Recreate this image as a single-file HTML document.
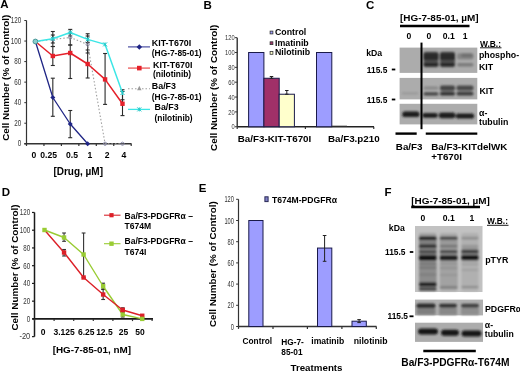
<!DOCTYPE html>
<html><head><meta charset="utf-8"><style>
html,body{margin:0;padding:0;background:#fff;overflow:hidden}
svg{display:block;font-family:"Liberation Sans", sans-serif;filter:blur(0.5px)}
</style></head><body>
<svg width="520" height="371" viewBox="0 0 520 371">
<defs>
<filter id="bl1" x="-5%" y="-5%" width="110%" height="110%"><feGaussianBlur stdDeviation="0.4"/></filter>
<filter id="bl2" x="-20%" y="-50%" width="140%" height="200%"><feGaussianBlur stdDeviation="1.1 0.8"/></filter>
</defs>
<rect width="520" height="371" fill="#fff"/>
<text x="0.20" y="8.40" font-size="11.5" font-weight="bold" text-anchor="start" fill="#000">A</text>
<line x1="26.50" y1="20.51" x2="26.50" y2="144.25" stroke="#333" stroke-width="1.2" />
<line x1="24.30" y1="143.75" x2="131.50" y2="143.75" stroke="#333" stroke-width="1.5" />
<line x1="24.30" y1="143.75" x2="26.50" y2="143.75" stroke="#333" stroke-width="1" />
<text x="21.20" y="146.47" font-size="8.4" font-weight="normal" text-anchor="end" fill="#333" textLength="3.5" lengthAdjust="spacingAndGlyphs" >0</text>
<line x1="24.30" y1="123.21" x2="26.50" y2="123.21" stroke="#333" stroke-width="1" />
<text x="21.20" y="125.93" font-size="8.4" font-weight="normal" text-anchor="end" fill="#333" textLength="7.0" lengthAdjust="spacingAndGlyphs" >20</text>
<line x1="24.30" y1="102.67" x2="26.50" y2="102.67" stroke="#333" stroke-width="1" />
<text x="21.20" y="105.39" font-size="8.4" font-weight="normal" text-anchor="end" fill="#333" textLength="7.0" lengthAdjust="spacingAndGlyphs" >40</text>
<line x1="24.30" y1="82.13" x2="26.50" y2="82.13" stroke="#333" stroke-width="1" />
<text x="21.20" y="84.85" font-size="8.4" font-weight="normal" text-anchor="end" fill="#333" textLength="7.0" lengthAdjust="spacingAndGlyphs" >60</text>
<line x1="24.30" y1="61.59" x2="26.50" y2="61.59" stroke="#333" stroke-width="1" />
<text x="21.20" y="64.31" font-size="8.4" font-weight="normal" text-anchor="end" fill="#333" textLength="7.0" lengthAdjust="spacingAndGlyphs" >80</text>
<line x1="24.30" y1="41.05" x2="26.50" y2="41.05" stroke="#333" stroke-width="1" />
<text x="21.20" y="43.77" font-size="8.4" font-weight="normal" text-anchor="end" fill="#333" textLength="10.5" lengthAdjust="spacingAndGlyphs" >100</text>
<line x1="24.30" y1="20.51" x2="26.50" y2="20.51" stroke="#333" stroke-width="1" />
<text x="21.20" y="23.23" font-size="8.4" font-weight="normal" text-anchor="end" fill="#333" textLength="10.5" lengthAdjust="spacingAndGlyphs" >120</text>
<line x1="26.50" y1="143.75" x2="26.50" y2="145.95" stroke="#333" stroke-width="1.2" />
<line x1="43.95" y1="143.75" x2="43.95" y2="145.95" stroke="#333" stroke-width="1.2" />
<line x1="61.40" y1="143.75" x2="61.40" y2="145.95" stroke="#333" stroke-width="1.2" />
<line x1="78.85" y1="143.75" x2="78.85" y2="145.95" stroke="#333" stroke-width="1.2" />
<line x1="96.30" y1="143.75" x2="96.30" y2="145.95" stroke="#333" stroke-width="1.2" />
<line x1="113.75" y1="143.75" x2="113.75" y2="145.95" stroke="#333" stroke-width="1.2" />
<line x1="131.20" y1="143.75" x2="131.20" y2="145.95" stroke="#333" stroke-width="1.2" />
<text x="34.00" y="157.90" font-size="8.6" font-weight="bold" text-anchor="middle" fill="#000" >0</text>
<text x="48.70" y="157.90" font-size="8.6" font-weight="bold" text-anchor="middle" fill="#000" >0.25</text>
<text x="72.00" y="157.90" font-size="8.6" font-weight="bold" text-anchor="middle" fill="#000" >0.5</text>
<text x="90.00" y="157.90" font-size="8.6" font-weight="bold" text-anchor="middle" fill="#000" >1</text>
<text x="107.10" y="157.90" font-size="8.6" font-weight="bold" text-anchor="middle" fill="#000" >2</text>
<text x="123.80" y="157.90" font-size="8.6" font-weight="bold" text-anchor="middle" fill="#000" >4</text>
<text x="78.20" y="174.50" font-size="10" font-weight="bold" text-anchor="middle" fill="#000" >[Drug, µM]</text>
<text x="0" y="0" transform="translate(8.90,77.70) rotate(-90)" font-size="9.9" font-weight="bold" text-anchor="middle">Cell Number (% of Control)</text>
<line x1="52.82" y1="78.20" x2="52.82" y2="116.30" stroke="#2a2a2a" stroke-width="1.1" />
<line x1="50.82" y1="78.20" x2="54.82" y2="78.20" stroke="#2a2a2a" stroke-width="1.1" />
<line x1="50.82" y1="116.30" x2="54.82" y2="116.30" stroke="#2a2a2a" stroke-width="1.1" />
<line x1="70.24" y1="110.50" x2="70.24" y2="137.70" stroke="#2a2a2a" stroke-width="1.1" />
<line x1="68.24" y1="110.50" x2="72.24" y2="110.50" stroke="#2a2a2a" stroke-width="1.1" />
<line x1="68.24" y1="137.70" x2="72.24" y2="137.70" stroke="#2a2a2a" stroke-width="1.1" />
<line x1="52.82" y1="46.50" x2="52.82" y2="65.50" stroke="#2a2a2a" stroke-width="1.1" />
<line x1="50.82" y1="46.50" x2="54.82" y2="46.50" stroke="#2a2a2a" stroke-width="1.1" />
<line x1="50.82" y1="65.50" x2="54.82" y2="65.50" stroke="#2a2a2a" stroke-width="1.1" />
<line x1="70.24" y1="45.00" x2="70.24" y2="78.50" stroke="#2a2a2a" stroke-width="1.1" />
<line x1="68.24" y1="45.00" x2="72.24" y2="45.00" stroke="#2a2a2a" stroke-width="1.1" />
<line x1="68.24" y1="78.50" x2="72.24" y2="78.50" stroke="#2a2a2a" stroke-width="1.1" />
<line x1="87.66" y1="50.00" x2="87.66" y2="78.00" stroke="#2a2a2a" stroke-width="1.1" />
<line x1="85.66" y1="50.00" x2="89.66" y2="50.00" stroke="#2a2a2a" stroke-width="1.1" />
<line x1="85.66" y1="78.00" x2="89.66" y2="78.00" stroke="#2a2a2a" stroke-width="1.1" />
<line x1="105.08" y1="53.50" x2="105.08" y2="104.40" stroke="#2a2a2a" stroke-width="1.1" />
<line x1="103.08" y1="53.50" x2="107.08" y2="53.50" stroke="#2a2a2a" stroke-width="1.1" />
<line x1="103.08" y1="104.40" x2="107.08" y2="104.40" stroke="#2a2a2a" stroke-width="1.1" />
<line x1="122.50" y1="91.50" x2="122.50" y2="115.60" stroke="#2a2a2a" stroke-width="1.1" />
<line x1="120.50" y1="91.50" x2="124.50" y2="91.50" stroke="#2a2a2a" stroke-width="1.1" />
<line x1="120.50" y1="115.60" x2="124.50" y2="115.60" stroke="#2a2a2a" stroke-width="1.1" />
<line x1="52.82" y1="31.50" x2="52.82" y2="46.50" stroke="#2a2a2a" stroke-width="1.1" />
<line x1="50.82" y1="31.50" x2="54.82" y2="31.50" stroke="#2a2a2a" stroke-width="1.1" />
<line x1="50.82" y1="46.50" x2="54.82" y2="46.50" stroke="#2a2a2a" stroke-width="1.1" />
<line x1="70.24" y1="29.40" x2="70.24" y2="36.00" stroke="#2a2a2a" stroke-width="1.1" />
<line x1="68.24" y1="29.40" x2="72.24" y2="29.40" stroke="#2a2a2a" stroke-width="1.1" />
<line x1="68.24" y1="36.00" x2="72.24" y2="36.00" stroke="#2a2a2a" stroke-width="1.1" />
<line x1="87.66" y1="33.75" x2="87.66" y2="42.50" stroke="#2a2a2a" stroke-width="1.1" />
<line x1="85.66" y1="33.75" x2="89.66" y2="33.75" stroke="#2a2a2a" stroke-width="1.1" />
<line x1="85.66" y1="42.50" x2="89.66" y2="42.50" stroke="#2a2a2a" stroke-width="1.1" />
<line x1="122.50" y1="89.75" x2="122.50" y2="99.75" stroke="#2a2a2a" stroke-width="1.1" />
<line x1="120.50" y1="89.75" x2="124.50" y2="89.75" stroke="#2a2a2a" stroke-width="1.1" />
<line x1="120.50" y1="99.75" x2="124.50" y2="99.75" stroke="#2a2a2a" stroke-width="1.1" />
<line x1="52.82" y1="35.00" x2="52.82" y2="43.00" stroke="#2a2a2a" stroke-width="1.1" />
<line x1="50.82" y1="35.00" x2="54.82" y2="35.00" stroke="#2a2a2a" stroke-width="1.1" />
<line x1="50.82" y1="43.00" x2="54.82" y2="43.00" stroke="#2a2a2a" stroke-width="1.1" />
<line x1="70.24" y1="33.00" x2="70.24" y2="45.00" stroke="#2a2a2a" stroke-width="1.1" />
<line x1="68.24" y1="33.00" x2="72.24" y2="33.00" stroke="#2a2a2a" stroke-width="1.1" />
<line x1="68.24" y1="45.00" x2="72.24" y2="45.00" stroke="#2a2a2a" stroke-width="1.1" />
<line x1="87.66" y1="36.00" x2="87.66" y2="53.00" stroke="#2a2a2a" stroke-width="1.1" />
<line x1="85.66" y1="36.00" x2="89.66" y2="36.00" stroke="#2a2a2a" stroke-width="1.1" />
<line x1="85.66" y1="53.00" x2="89.66" y2="53.00" stroke="#2a2a2a" stroke-width="1.1" />
<polyline points="35.40,41.50 52.82,39.40 70.24,37.50 87.66,44.40 105.08,143.75 122.50,143.75" fill="none" stroke="#a0a0a0" stroke-width="1.1" stroke-linejoin="round" stroke-dasharray="1.5,2"/>
<circle cx="35.40" cy="41.50" r="1.6" fill="none" stroke="#8a8aa8" stroke-width="1"/>
<circle cx="52.82" cy="39.40" r="1.6" fill="none" stroke="#8a8aa8" stroke-width="1"/>
<circle cx="70.24" cy="37.50" r="1.6" fill="none" stroke="#8a8aa8" stroke-width="1"/>
<circle cx="87.66" cy="44.40" r="1.6" fill="none" stroke="#8a8aa8" stroke-width="1"/>
<circle cx="105.08" cy="143.75" r="1.6" fill="none" stroke="#8a8aa8" stroke-width="1"/>
<circle cx="122.50" cy="143.75" r="1.6" fill="none" stroke="#8a8aa8" stroke-width="1"/>
<polyline points="35.40,41.50 52.82,97.50 70.24,124.00 87.66,143.75" fill="none" stroke="#1f2585" stroke-width="1.3" stroke-linejoin="round" />
<path d="M52.82,95.00 L55.32,97.50 L52.82,100.00 L50.32,97.50Z" fill="#1f2585"/>
<path d="M70.24,121.50 L72.74,124.00 L70.24,126.50 L67.74,124.00Z" fill="#1f2585"/>
<path d="M87.66,141.25 L90.16,143.75 L87.66,146.25 L85.16,143.75Z" fill="#1f2585"/>
<polyline points="35.40,41.50 52.82,56.00 70.24,53.00 87.66,64.00 105.08,79.40 122.50,103.75" fill="none" stroke="#e5202a" stroke-width="1.5" stroke-linejoin="round" />
<rect x="50.62" y="53.80" width="4.40" height="4.40" fill="#e5202a" />
<rect x="68.04" y="50.80" width="4.40" height="4.40" fill="#e5202a" />
<rect x="85.46" y="61.80" width="4.40" height="4.40" fill="#e5202a" />
<rect x="102.88" y="77.20" width="4.40" height="4.40" fill="#e5202a" />
<rect x="120.30" y="101.55" width="4.40" height="4.40" fill="#e5202a" />
<polyline points="35.40,41.50 52.82,38.75 70.24,32.50 87.66,39.40 105.08,44.40 122.50,93.00" fill="none" stroke="#3ce6e6" stroke-width="1.5" stroke-linejoin="round" />
<line x1="50.82" y1="36.75" x2="54.82" y2="40.75" stroke="#22c8c8" stroke-width="1" />
<line x1="50.82" y1="40.75" x2="54.82" y2="36.75" stroke="#22c8c8" stroke-width="1" />
<line x1="52.82" y1="36.75" x2="52.82" y2="40.75" stroke="#22c8c8" stroke-width="1" />
<line x1="68.24" y1="30.50" x2="72.24" y2="34.50" stroke="#22c8c8" stroke-width="1" />
<line x1="68.24" y1="34.50" x2="72.24" y2="30.50" stroke="#22c8c8" stroke-width="1" />
<line x1="70.24" y1="30.50" x2="70.24" y2="34.50" stroke="#22c8c8" stroke-width="1" />
<line x1="85.66" y1="37.40" x2="89.66" y2="41.40" stroke="#22c8c8" stroke-width="1" />
<line x1="85.66" y1="41.40" x2="89.66" y2="37.40" stroke="#22c8c8" stroke-width="1" />
<line x1="87.66" y1="37.40" x2="87.66" y2="41.40" stroke="#22c8c8" stroke-width="1" />
<line x1="103.08" y1="42.40" x2="107.08" y2="46.40" stroke="#22c8c8" stroke-width="1" />
<line x1="103.08" y1="46.40" x2="107.08" y2="42.40" stroke="#22c8c8" stroke-width="1" />
<line x1="105.08" y1="42.40" x2="105.08" y2="46.40" stroke="#22c8c8" stroke-width="1" />
<line x1="120.50" y1="91.00" x2="124.50" y2="95.00" stroke="#22c8c8" stroke-width="1" />
<line x1="120.50" y1="95.00" x2="124.50" y2="91.00" stroke="#22c8c8" stroke-width="1" />
<line x1="122.50" y1="91.00" x2="122.50" y2="95.00" stroke="#22c8c8" stroke-width="1" />
<circle cx="35.40" cy="41.50" r="2.4" fill="#8ccccc" stroke="#4a9a9a" stroke-width="1"/>
<line x1="128.00" y1="46.90" x2="150.00" y2="46.90" stroke="#3a3f99" stroke-width="1.1" />
<path d="M139.30,44.15 L142.05,46.90 L139.30,49.65 L136.55,46.90Z" fill="#1f2585"/>
<text x="151.80" y="46.40" font-size="8.9" font-weight="bold" text-anchor="start" fill="#000" >KIT-T670I</text>
<text x="151.80" y="56.42" font-size="8.4" font-weight="bold" text-anchor="start" fill="#000" >(HG-7-85-01)</text>
<line x1="128.00" y1="68.10" x2="150.00" y2="68.10" stroke="#ee7070" stroke-width="1.5" />
<rect x="137.00" y="65.80" width="4.60" height="4.60" fill="#e5202a" />
<text x="153.00" y="67.80" font-size="8.9" font-weight="bold" text-anchor="start" fill="#000" >KIT-T670I</text>
<text x="153.00" y="77.42" font-size="8.4" font-weight="bold" text-anchor="start" fill="#000" >(nilotinib)</text>
<line x1="128.00" y1="88.75" x2="150.00" y2="88.75" stroke="#a0a0a0" stroke-width="1.1" stroke-dasharray="1.5,2"/>
<path d="M139.30,85.75 L141.55,90.25 L137.05,90.25Z" fill="#9a9a9a"/>
<text x="151.80" y="88.90" font-size="8.9" font-weight="bold" text-anchor="start" fill="#000" >Ba/F3</text>
<text x="151.80" y="99.92" font-size="8.4" font-weight="bold" text-anchor="start" fill="#000" >(HG-7-85-01)</text>
<line x1="128.00" y1="109.40" x2="150.00" y2="109.40" stroke="#3ce6e6" stroke-width="1.3" />
<line x1="137.30" y1="107.40" x2="141.30" y2="111.40" stroke="#22c8c8" stroke-width="1" />
<line x1="137.30" y1="111.40" x2="141.30" y2="107.40" stroke="#22c8c8" stroke-width="1" />
<line x1="139.30" y1="107.40" x2="139.30" y2="111.40" stroke="#22c8c8" stroke-width="1" />
<text x="154.50" y="110.40" font-size="8.9" font-weight="bold" text-anchor="start" fill="#000" >Ba/F3</text>
<text x="154.50" y="121.42" font-size="8.4" font-weight="bold" text-anchor="start" fill="#000" >(nilotinib)</text>
<text x="203.50" y="8.60" font-size="11.5" font-weight="bold" text-anchor="start" fill="#000">B</text>
<line x1="237.20" y1="37.65" x2="237.20" y2="126.75" stroke="#222" stroke-width="1.3" />
<line x1="237.20" y1="126.75" x2="374.00" y2="126.75" stroke="#222" stroke-width="1.6" />
<line x1="235.00" y1="126.75" x2="237.20" y2="126.75" stroke="#333" stroke-width="1" />
<text x="234.60" y="129.49" font-size="7.6" font-weight="normal" text-anchor="end" fill="#333" textLength="3.2" lengthAdjust="spacingAndGlyphs" >0</text>
<line x1="235.00" y1="111.90" x2="237.20" y2="111.90" stroke="#333" stroke-width="1" />
<text x="234.60" y="114.64" font-size="7.6" font-weight="normal" text-anchor="end" fill="#333" textLength="6.4" lengthAdjust="spacingAndGlyphs" >20</text>
<line x1="235.00" y1="97.05" x2="237.20" y2="97.05" stroke="#333" stroke-width="1" />
<text x="234.60" y="99.79" font-size="7.6" font-weight="normal" text-anchor="end" fill="#333" textLength="6.4" lengthAdjust="spacingAndGlyphs" >40</text>
<line x1="235.00" y1="82.20" x2="237.20" y2="82.20" stroke="#333" stroke-width="1" />
<text x="234.60" y="84.94" font-size="7.6" font-weight="normal" text-anchor="end" fill="#333" textLength="6.4" lengthAdjust="spacingAndGlyphs" >60</text>
<line x1="235.00" y1="67.35" x2="237.20" y2="67.35" stroke="#333" stroke-width="1" />
<text x="234.60" y="70.09" font-size="7.6" font-weight="normal" text-anchor="end" fill="#333" textLength="6.4" lengthAdjust="spacingAndGlyphs" >80</text>
<line x1="235.00" y1="52.50" x2="237.20" y2="52.50" stroke="#333" stroke-width="1" />
<text x="234.60" y="55.24" font-size="7.6" font-weight="normal" text-anchor="end" fill="#333" textLength="9.600000000000001" lengthAdjust="spacingAndGlyphs" >100</text>
<line x1="235.00" y1="37.65" x2="237.20" y2="37.65" stroke="#333" stroke-width="1" />
<text x="234.60" y="40.39" font-size="7.6" font-weight="normal" text-anchor="end" fill="#333" textLength="9.600000000000001" lengthAdjust="spacingAndGlyphs" >120</text>
<line x1="237.20" y1="126.75" x2="237.20" y2="128.95" stroke="#333" stroke-width="1.2" />
<line x1="305.40" y1="126.75" x2="305.40" y2="128.95" stroke="#333" stroke-width="1.2" />
<line x1="373.75" y1="126.75" x2="373.75" y2="128.95" stroke="#333" stroke-width="1.2" />
<rect x="248.60" y="52.50" width="15.30" height="74.25" fill="#9d9dff" stroke="#1a1a4a" stroke-width="1" />
<rect x="263.90" y="78.26" width="15.30" height="48.49" fill="#a03068" stroke="#1a1a4a" stroke-width="1" />
<rect x="279.20" y="94.23" width="15.20" height="32.52" fill="#ffffcc" stroke="#1a1a4a" stroke-width="1" />
<rect x="316.50" y="52.50" width="15.30" height="74.25" fill="#9d9dff" stroke="#1a1a4a" stroke-width="1" />
<line x1="331.80" y1="126.20" x2="347.00" y2="126.20" stroke="#333" stroke-width="1" />
<line x1="271.50" y1="76.50" x2="271.50" y2="78.26" stroke="#222" stroke-width="1" />
<line x1="269.75" y1="76.50" x2="273.25" y2="76.50" stroke="#222" stroke-width="1" />
<line x1="269.75" y1="78.26" x2="273.25" y2="78.26" stroke="#222" stroke-width="1" />
<line x1="286.80" y1="90.50" x2="286.80" y2="94.23" stroke="#222" stroke-width="1" />
<line x1="285.05" y1="90.50" x2="288.55" y2="90.50" stroke="#222" stroke-width="1" />
<line x1="285.05" y1="94.23" x2="288.55" y2="94.23" stroke="#222" stroke-width="1" />
<rect x="270.10" y="31.10" width="2.80" height="2.80" fill="#9d9dff" stroke="#333" stroke-width="0.8" />
<text x="275.00" y="34.97" font-size="8.8" font-weight="bold" text-anchor="start" fill="#000" >Control</text>
<rect x="270.10" y="41.80" width="2.80" height="2.80" fill="#a03068" stroke="#333" stroke-width="0.8" />
<text x="275.00" y="45.67" font-size="8.8" font-weight="bold" text-anchor="start" fill="#000" >Imatinib</text>
<rect x="270.10" y="51.50" width="2.80" height="2.80" fill="#ffffcc" stroke="#333" stroke-width="0.8" />
<text x="275.00" y="55.37" font-size="8.8" font-weight="bold" text-anchor="start" fill="#000" >Nilotinib</text>
<text x="274.50" y="141.73" font-size="9.8" font-weight="bold" text-anchor="middle" fill="#000" >Ba/F3-KIT-T670I</text>
<text x="353.80" y="141.73" font-size="9.8" font-weight="bold" text-anchor="middle" fill="#000" >Ba/F3.p210</text>
<text x="0" y="0" transform="translate(217.10,87.80) rotate(-90)" font-size="9.9" font-weight="bold" text-anchor="middle">Cell Number (% of Control)</text>
<text x="366.00" y="8.60" font-size="11.5" font-weight="bold" text-anchor="start" fill="#000">C</text>
<text x="400.00" y="21.08" font-size="9.95" font-weight="bold" text-anchor="start" fill="#000" >[HG-7-85-01, µM]</text>
<line x1="400.00" y1="26.00" x2="469.50" y2="26.00" stroke="#000" stroke-width="2.6" />
<text x="408.80" y="39.40" font-size="8.6" font-weight="bold" text-anchor="middle" fill="#000" >0</text>
<text x="428.80" y="39.40" font-size="8.6" font-weight="bold" text-anchor="middle" fill="#000" >0</text>
<text x="448.80" y="39.40" font-size="8.6" font-weight="bold" text-anchor="middle" fill="#000" >0.1</text>
<text x="465.20" y="39.40" font-size="8.6" font-weight="bold" text-anchor="middle" fill="#000" >1</text>
<text x="480.00" y="46.82" font-size="8.4" font-weight="bold" text-anchor="start" fill="#000" >W.B.:</text>
<line x1="480.00" y1="47.80" x2="501.50" y2="47.80" stroke="#000" stroke-width="0.9" />
<text x="479.00" y="58.37" font-size="8.8" font-weight="bold" text-anchor="start" fill="#000" >phospho-</text>
<text x="479.00" y="69.57" font-size="8.8" font-weight="bold" text-anchor="start" fill="#000" >KIT</text>
<text x="479.50" y="93.77" font-size="8.8" font-weight="bold" text-anchor="start" fill="#000" >KIT</text>
<text x="479.00" y="115.77" font-size="8.8" font-weight="bold" text-anchor="start" fill="#000" >α-</text>
<text x="479.00" y="125.37" font-size="8.8" font-weight="bold" text-anchor="start" fill="#000" >tubulin</text>
<text x="366.20" y="56.33" font-size="8.7" font-weight="bold" text-anchor="start" fill="#000" >kDa</text>
<text x="366.80" y="72.52" font-size="8.4" font-weight="bold" text-anchor="start" fill="#000" >115.5</text>
<rect x="391.80" y="68.60" width="3.50" height="1.80" fill="#000" />
<text x="366.80" y="102.52" font-size="8.4" font-weight="bold" text-anchor="start" fill="#000" >115.5</text>
<rect x="391.80" y="98.60" width="3.50" height="1.80" fill="#000" />
<g filter="url(#bl1)">
<rect x="399.60" y="47.60" width="77.70" height="25.30" fill="#acacac" />
<rect x="399.60" y="77.90" width="77.70" height="21.50" fill="#acacac" />
<rect x="399.60" y="103.80" width="77.70" height="20.60" fill="#acacac" />
</g>
<g filter="url(#bl2)">
<rect x="423.50" y="51.80" width="15.00" height="15.50" rx="2" fill="#5a5a5a"/>
<rect x="423.50" y="52.60" width="15.00" height="7.80" rx="2" fill="#2c2c2c"/>
<rect x="423.50" y="62.40" width="15.00" height="4.20" rx="2" fill="#262626"/>
<rect x="440.00" y="51.80" width="15.00" height="15.50" rx="2" fill="#5a5a5a"/>
<rect x="440.00" y="52.60" width="15.00" height="7.80" rx="2" fill="#2c2c2c"/>
<rect x="440.00" y="62.40" width="15.00" height="4.20" rx="2" fill="#262626"/>
<rect x="457.00" y="53.20" width="16.50" height="6.40" rx="2" fill="#858585"/>
<rect x="461.00" y="53.60" width="12.00" height="3.60" rx="2" fill="#707070"/>
<rect x="457.00" y="63.00" width="16.50" height="3.60" rx="2" fill="#7a7a7a"/>
<rect x="401.50" y="92.30" width="17.00" height="2.20" rx="2" fill="#999"/>
<rect x="423.50" y="86.50" width="15.00" height="3.00" rx="2" fill="#888"/>
<rect x="423.50" y="92.20" width="15.00" height="3.40" rx="2" fill="#444"/>
<rect x="440.00" y="85.60" width="15.00" height="5.20" rx="2" fill="#444"/>
<rect x="440.00" y="91.80" width="15.00" height="3.80" rx="2" fill="#333"/>
<rect x="456.50" y="85.60" width="17.00" height="5.00" rx="2" fill="#4a4a4a"/>
<rect x="456.50" y="91.80" width="17.00" height="3.80" rx="2" fill="#3a3a3a"/>
<rect x="402.30" y="111.60" width="17.20" height="5.40" rx="2.6" fill="#1a1a1a"/>
<rect x="422.30" y="113.00" width="15.50" height="4.80" rx="2.3" fill="#1e1e1e"/>
<rect x="438.80" y="112.60" width="16.60" height="5.60" rx="2.7" fill="#1e1e1e"/>
<rect x="455.80" y="113.40" width="18.40" height="5.20" rx="2.5" fill="#1e1e1e"/>
</g>
<line x1="421.50" y1="42.60" x2="421.50" y2="129.20" stroke="#000" stroke-width="2" />
<line x1="395.50" y1="133.60" x2="416.70" y2="133.60" stroke="#000" stroke-width="2.4" />
<line x1="425.75" y1="133.60" x2="477.30" y2="133.60" stroke="#000" stroke-width="2.4" />
<text x="409.20" y="149.83" font-size="9.8" font-weight="bold" text-anchor="middle" fill="#000" >Ba/F3</text>
<text x="431.20" y="149.83" font-size="9.8" font-weight="bold" text-anchor="start" fill="#000" >Ba/F3-KITdelWK</text>
<text x="431.20" y="159.93" font-size="9.8" font-weight="bold" text-anchor="start" fill="#000" >+T670I</text>
<text x="1.70" y="195.80" font-size="11.5" font-weight="bold" text-anchor="start" fill="#000">D</text>
<line x1="34.50" y1="212.46" x2="34.50" y2="336.64" stroke="#1a1a1a" stroke-width="1.5" />
<line x1="32.30" y1="318.90" x2="153.00" y2="318.90" stroke="#1a1a1a" stroke-width="1.7" />
<line x1="32.00" y1="336.64" x2="34.50" y2="336.64" stroke="#1a1a1a" stroke-width="1.2" />
<text x="30.20" y="339.46" font-size="8.4" font-weight="normal" text-anchor="end" fill="#333" textLength="10.8" lengthAdjust="spacingAndGlyphs" >-20</text>
<line x1="32.00" y1="318.90" x2="34.50" y2="318.90" stroke="#1a1a1a" stroke-width="1.2" />
<text x="30.20" y="321.72" font-size="8.4" font-weight="normal" text-anchor="end" fill="#333" textLength="3.45" lengthAdjust="spacingAndGlyphs" >0</text>
<line x1="32.00" y1="301.16" x2="34.50" y2="301.16" stroke="#1a1a1a" stroke-width="1.2" />
<text x="30.20" y="303.98" font-size="8.4" font-weight="normal" text-anchor="end" fill="#333" textLength="6.9" lengthAdjust="spacingAndGlyphs" >20</text>
<line x1="32.00" y1="283.42" x2="34.50" y2="283.42" stroke="#1a1a1a" stroke-width="1.2" />
<text x="30.20" y="286.24" font-size="8.4" font-weight="normal" text-anchor="end" fill="#333" textLength="6.9" lengthAdjust="spacingAndGlyphs" >40</text>
<line x1="32.00" y1="265.68" x2="34.50" y2="265.68" stroke="#1a1a1a" stroke-width="1.2" />
<text x="30.20" y="268.50" font-size="8.4" font-weight="normal" text-anchor="end" fill="#333" textLength="6.9" lengthAdjust="spacingAndGlyphs" >60</text>
<line x1="32.00" y1="247.94" x2="34.50" y2="247.94" stroke="#1a1a1a" stroke-width="1.2" />
<text x="30.20" y="250.76" font-size="8.4" font-weight="normal" text-anchor="end" fill="#333" textLength="6.9" lengthAdjust="spacingAndGlyphs" >80</text>
<line x1="32.00" y1="230.20" x2="34.50" y2="230.20" stroke="#1a1a1a" stroke-width="1.2" />
<text x="30.20" y="233.02" font-size="8.4" font-weight="normal" text-anchor="end" fill="#333" textLength="10.350000000000001" lengthAdjust="spacingAndGlyphs" >100</text>
<line x1="32.00" y1="212.46" x2="34.50" y2="212.46" stroke="#1a1a1a" stroke-width="1.2" />
<text x="30.20" y="215.28" font-size="8.4" font-weight="normal" text-anchor="end" fill="#333" textLength="10.350000000000001" lengthAdjust="spacingAndGlyphs" >120</text>
<line x1="34.50" y1="318.90" x2="34.50" y2="321.10" stroke="#333" stroke-width="1.2" />
<line x1="54.10" y1="318.90" x2="54.10" y2="321.10" stroke="#333" stroke-width="1.2" />
<line x1="73.70" y1="318.90" x2="73.70" y2="321.10" stroke="#333" stroke-width="1.2" />
<line x1="93.30" y1="318.90" x2="93.30" y2="321.10" stroke="#333" stroke-width="1.2" />
<line x1="112.90" y1="318.90" x2="112.90" y2="321.10" stroke="#333" stroke-width="1.2" />
<line x1="132.50" y1="318.90" x2="132.50" y2="321.10" stroke="#333" stroke-width="1.2" />
<line x1="152.10" y1="318.90" x2="152.10" y2="321.10" stroke="#333" stroke-width="1.2" />
<text x="43.10" y="334.86" font-size="8.5" font-weight="bold" text-anchor="middle" fill="#000" >0</text>
<text x="64.10" y="334.86" font-size="8.5" font-weight="bold" text-anchor="middle" fill="#000" >3.125</text>
<text x="86.30" y="334.86" font-size="8.5" font-weight="bold" text-anchor="middle" fill="#000" >6.25</text>
<text x="104.40" y="334.86" font-size="8.5" font-weight="bold" text-anchor="middle" fill="#000" >12.5</text>
<text x="123.40" y="334.86" font-size="8.5" font-weight="bold" text-anchor="middle" fill="#000" >25</text>
<text x="140.10" y="334.86" font-size="8.5" font-weight="bold" text-anchor="middle" fill="#000" >50</text>
<text x="91.90" y="353.26" font-size="9.9" font-weight="bold" text-anchor="middle" fill="#000" >[HG-7-85-01, nM]</text>
<text x="0" y="0" transform="translate(17.60,267.50) rotate(-90)" font-size="9.9" font-weight="bold" text-anchor="middle">Cell Number (% of Control)</text>
<line x1="64.05" y1="249.50" x2="64.05" y2="256.00" stroke="#333" stroke-width="1.1" />
<line x1="62.15" y1="249.50" x2="65.95" y2="249.50" stroke="#333" stroke-width="1.1" />
<line x1="62.15" y1="256.00" x2="65.95" y2="256.00" stroke="#333" stroke-width="1.1" />
<line x1="64.05" y1="233.00" x2="64.05" y2="241.30" stroke="#333" stroke-width="1.1" />
<line x1="62.15" y1="233.00" x2="65.95" y2="233.00" stroke="#333" stroke-width="1.1" />
<line x1="62.15" y1="241.30" x2="65.95" y2="241.30" stroke="#333" stroke-width="1.1" />
<line x1="83.60" y1="233.00" x2="83.60" y2="277.50" stroke="#333" stroke-width="1.1" />
<line x1="81.70" y1="233.00" x2="85.50" y2="233.00" stroke="#333" stroke-width="1.1" />
<line x1="81.70" y1="277.50" x2="85.50" y2="277.50" stroke="#333" stroke-width="1.1" />
<line x1="103.15" y1="289.00" x2="103.15" y2="299.50" stroke="#333" stroke-width="1.1" />
<line x1="101.25" y1="289.00" x2="105.05" y2="289.00" stroke="#333" stroke-width="1.1" />
<line x1="101.25" y1="299.50" x2="105.05" y2="299.50" stroke="#333" stroke-width="1.1" />
<line x1="103.15" y1="283.20" x2="103.15" y2="289.50" stroke="#333" stroke-width="1.1" />
<line x1="101.25" y1="283.20" x2="105.05" y2="283.20" stroke="#333" stroke-width="1.1" />
<line x1="101.25" y1="289.50" x2="105.05" y2="289.50" stroke="#333" stroke-width="1.1" />
<line x1="122.70" y1="307.80" x2="122.70" y2="312.00" stroke="#333" stroke-width="1.1" />
<line x1="120.80" y1="307.80" x2="124.60" y2="307.80" stroke="#333" stroke-width="1.1" />
<line x1="120.80" y1="312.00" x2="124.60" y2="312.00" stroke="#333" stroke-width="1.1" />
<line x1="122.70" y1="312.00" x2="122.70" y2="317.00" stroke="#333" stroke-width="1.1" />
<line x1="120.80" y1="312.00" x2="124.60" y2="312.00" stroke="#333" stroke-width="1.1" />
<line x1="120.80" y1="317.00" x2="124.60" y2="317.00" stroke="#333" stroke-width="1.1" />
<polyline points="44.50,230.00 64.05,237.50 83.60,254.50 103.15,286.25 122.70,314.50 142.25,318.90" fill="none" stroke="#99cc33" stroke-width="1.4" stroke-linejoin="round" />
<polyline points="44.50,230.00 64.05,252.50 83.60,277.50 103.15,294.50 122.70,310.00 142.25,315.75" fill="none" stroke="#dc2028" stroke-width="1.4" stroke-linejoin="round" />
<rect x="61.85" y="250.30" width="4.40" height="4.40" fill="#dc2028" />
<rect x="81.40" y="275.30" width="4.40" height="4.40" fill="#dc2028" />
<rect x="100.95" y="292.30" width="4.40" height="4.40" fill="#dc2028" />
<rect x="120.50" y="307.80" width="4.40" height="4.40" fill="#dc2028" />
<rect x="140.05" y="313.55" width="4.40" height="4.40" fill="#dc2028" />
<rect x="42.30" y="227.80" width="4.40" height="4.40" fill="#99cc33" />
<rect x="61.85" y="235.30" width="4.40" height="4.40" fill="#99cc33" />
<rect x="81.40" y="252.30" width="4.40" height="4.40" fill="#99cc33" />
<rect x="100.95" y="284.05" width="4.40" height="4.40" fill="#99cc33" />
<rect x="120.50" y="312.30" width="4.40" height="4.40" fill="#99cc33" />
<rect x="140.05" y="316.70" width="4.40" height="4.40" fill="#99cc33" />
<rect x="120.50" y="307.80" width="4.40" height="4.40" fill="#dc2028" />
<line x1="104.00" y1="215.20" x2="120.50" y2="215.20" stroke="#d8262e" stroke-width="1.1" />
<rect x="109.40" y="213.10" width="4.20" height="4.20" fill="#dc2028" />
<line x1="104.00" y1="243.70" x2="120.50" y2="243.70" stroke="#99cc33" stroke-width="1.1" />
<rect x="109.30" y="241.50" width="4.40" height="4.40" fill="#99cc33" />
<text x="124.50" y="218.68" font-size="8.56" font-weight="bold" text-anchor="start" fill="#000" >Ba/F3-PDGFRα –</text>
<text x="124.50" y="228.88" font-size="8.56" font-weight="bold" text-anchor="start" fill="#000" >T674M</text>
<text x="124.50" y="244.38" font-size="8.56" font-weight="bold" text-anchor="start" fill="#000" >Ba/F3-PDGFRα –</text>
<text x="124.50" y="255.28" font-size="8.56" font-weight="bold" text-anchor="start" fill="#000" >T674I</text>
<text x="198.80" y="191.80" font-size="11.5" font-weight="bold" text-anchor="start" fill="#000">E</text>
<line x1="238.50" y1="199.30" x2="238.50" y2="326.50" stroke="#333" stroke-width="1.2" />
<line x1="238.50" y1="326.50" x2="376.50" y2="326.50" stroke="#333" stroke-width="1.5" />
<line x1="236.10" y1="326.50" x2="238.50" y2="326.50" stroke="#333" stroke-width="1" />
<text x="233.90" y="329.60" font-size="8.6" font-weight="normal" text-anchor="end" fill="#333" textLength="3.15" lengthAdjust="spacingAndGlyphs" >0</text>
<line x1="236.10" y1="305.30" x2="238.50" y2="305.30" stroke="#333" stroke-width="1" />
<text x="233.90" y="308.40" font-size="8.6" font-weight="normal" text-anchor="end" fill="#333" textLength="6.3" lengthAdjust="spacingAndGlyphs" >20</text>
<line x1="236.10" y1="284.10" x2="238.50" y2="284.10" stroke="#333" stroke-width="1" />
<text x="233.90" y="287.20" font-size="8.6" font-weight="normal" text-anchor="end" fill="#333" textLength="6.3" lengthAdjust="spacingAndGlyphs" >40</text>
<line x1="236.10" y1="262.90" x2="238.50" y2="262.90" stroke="#333" stroke-width="1" />
<text x="233.90" y="266.00" font-size="8.6" font-weight="normal" text-anchor="end" fill="#333" textLength="6.3" lengthAdjust="spacingAndGlyphs" >60</text>
<line x1="236.10" y1="241.70" x2="238.50" y2="241.70" stroke="#333" stroke-width="1" />
<text x="233.90" y="244.80" font-size="8.6" font-weight="normal" text-anchor="end" fill="#333" textLength="6.3" lengthAdjust="spacingAndGlyphs" >80</text>
<line x1="236.10" y1="220.50" x2="238.50" y2="220.50" stroke="#333" stroke-width="1" />
<text x="233.90" y="223.60" font-size="8.6" font-weight="normal" text-anchor="end" fill="#333" textLength="9.45" lengthAdjust="spacingAndGlyphs" >100</text>
<line x1="236.10" y1="199.30" x2="238.50" y2="199.30" stroke="#333" stroke-width="1" />
<text x="233.90" y="202.40" font-size="8.6" font-weight="normal" text-anchor="end" fill="#333" textLength="9.45" lengthAdjust="spacingAndGlyphs" >120</text>
<line x1="238.50" y1="326.50" x2="238.50" y2="328.90" stroke="#333" stroke-width="1.2" />
<line x1="273.00" y1="326.50" x2="273.00" y2="328.90" stroke="#333" stroke-width="1.2" />
<line x1="307.40" y1="326.50" x2="307.40" y2="328.90" stroke="#333" stroke-width="1.2" />
<line x1="341.90" y1="326.50" x2="341.90" y2="328.90" stroke="#333" stroke-width="1.2" />
<line x1="376.30" y1="326.50" x2="376.30" y2="328.90" stroke="#333" stroke-width="1.2" />
<rect x="248.80" y="220.50" width="14.20" height="106.00" fill="#9d9dff" stroke="#1a1a4a" stroke-width="1" />
<rect x="317.50" y="248.06" width="14.30" height="78.44" fill="#9d9dff" stroke="#1a1a4a" stroke-width="1" />
<rect x="352.00" y="321.20" width="14.30" height="5.30" fill="#9d9dff" stroke="#1a1a4a" stroke-width="1" />
<line x1="324.60" y1="235.50" x2="324.60" y2="261.30" stroke="#222" stroke-width="1" />
<line x1="322.80" y1="235.50" x2="326.40" y2="235.50" stroke="#222" stroke-width="1" />
<line x1="322.80" y1="261.30" x2="326.40" y2="261.30" stroke="#222" stroke-width="1" />
<line x1="359.10" y1="319.60" x2="359.10" y2="322.60" stroke="#222" stroke-width="1" />
<line x1="357.30" y1="319.60" x2="360.90" y2="319.60" stroke="#222" stroke-width="1" />
<line x1="357.30" y1="322.60" x2="360.90" y2="322.60" stroke="#222" stroke-width="1" />
<rect x="264.90" y="196.80" width="3.20" height="4.80" fill="#8080c8" stroke="#2a2a55" stroke-width="1" />
<text x="272.00" y="203.10" font-size="8.6" font-weight="bold" text-anchor="start" fill="#000" >T674M-PDGFRα</text>
<text x="257.30" y="343.79" font-size="8.3" font-weight="bold" text-anchor="middle" fill="#000" >Control</text>
<text x="281.30" y="345.49" font-size="8.3" font-weight="bold" text-anchor="start" fill="#000" >HG-7-</text>
<text x="281.30" y="355.29" font-size="8.3" font-weight="bold" text-anchor="start" fill="#000" >85-01</text>
<text x="327.80" y="343.90" font-size="8.6" font-weight="bold" text-anchor="middle" fill="#000" >imatinib</text>
<text x="370.60" y="343.93" font-size="8.7" font-weight="bold" text-anchor="middle" fill="#000" >nilotinib</text>
<text x="316.50" y="370.51" font-size="9.75" font-weight="bold" text-anchor="middle" fill="#000" >Treatments</text>
<text x="0" y="0" transform="translate(216.00,264.20) rotate(-90)" font-size="9.85" font-weight="bold" text-anchor="middle">Cell Number (% of Control)</text>
<text x="384.60" y="196.00" font-size="11.5" font-weight="bold" text-anchor="start" fill="#000">F</text>
<text x="411.20" y="203.58" font-size="9.95" font-weight="bold" text-anchor="start" fill="#000" >[HG-7-85-01, µM]</text>
<line x1="411.20" y1="207.00" x2="480.00" y2="207.00" stroke="#000" stroke-width="2.6" />
<text x="423.00" y="220.60" font-size="8.6" font-weight="bold" text-anchor="middle" fill="#000" >0</text>
<text x="448.80" y="220.60" font-size="8.6" font-weight="bold" text-anchor="middle" fill="#000" >0.1</text>
<text x="472.00" y="220.60" font-size="8.6" font-weight="bold" text-anchor="middle" fill="#000" >1</text>
<text x="487.00" y="224.32" font-size="8.4" font-weight="bold" text-anchor="start" fill="#000" >W.B.:</text>
<line x1="487.00" y1="225.30" x2="508.50" y2="225.30" stroke="#000" stroke-width="0.9" />
<text x="388.80" y="230.63" font-size="8.7" font-weight="bold" text-anchor="start" fill="#000" >kDa</text>
<text x="385.00" y="255.02" font-size="8.4" font-weight="bold" text-anchor="start" fill="#000" >115.5</text>
<rect x="409.80" y="251.10" width="3.50" height="1.80" fill="#000" />
<text x="387.50" y="319.32" font-size="8.4" font-weight="bold" text-anchor="start" fill="#000" >115.5</text>
<rect x="409.50" y="315.40" width="4.00" height="1.80" fill="#000" />
<text x="485.20" y="263.10" font-size="8.9" font-weight="bold" text-anchor="start" fill="#000" >pTYR</text>
<text x="485.00" y="312.17" font-size="8.8" font-weight="bold" text-anchor="start" fill="#000" >PDGFRα</text>
<text x="484.80" y="327.53" font-size="8.7" font-weight="bold" text-anchor="start" fill="#000" >α-</text>
<text x="484.80" y="337.33" font-size="8.7" font-weight="bold" text-anchor="start" fill="#000" >tubulin</text>
<g filter="url(#bl1)">
<rect x="415.00" y="226.00" width="67.50" height="66.00" fill="#c2c2c2" />
<rect x="415.00" y="299.60" width="68.00" height="15.80" fill="#b0b0b0" />
<rect x="415.00" y="322.70" width="68.00" height="19.20" fill="#acacac" />
</g>
<g filter="url(#bl2)">
<rect x="419.00" y="233.00" width="17.50" height="58.00" rx="2" fill="#a0a0a0"/>
<rect x="439.80" y="233.00" width="17.70" height="58.00" rx="2" fill="#aaaaaa"/>
<rect x="461.30" y="233.00" width="17.20" height="58.00" rx="2" fill="#b0b0b0"/>
<rect x="419.00" y="236.00" width="17.50" height="25.00" rx="2" fill="#808080"/>
<rect x="439.80" y="236.00" width="17.70" height="25.00" rx="2" fill="#999"/>
<rect x="461.30" y="248.00" width="17.20" height="13.00" rx="2" fill="#8a8a8a"/>
<rect x="419.00" y="262.00" width="17.50" height="27.00" rx="2" fill="#8c8c8c"/>
<rect x="439.80" y="262.00" width="17.70" height="27.00" rx="2" fill="#a2a2a2"/>
<rect x="419.00" y="236.40" width="17.50" height="3.60" rx="1.5" fill="#1a1a1a"/>
<rect x="419.00" y="244.60" width="17.50" height="3.20" rx="1.5" fill="#2a2a2a"/>
<rect x="419.00" y="250.40" width="17.50" height="2.80" rx="1.5" fill="#404040"/>
<rect x="419.00" y="254.90" width="17.50" height="5.80" rx="1.5" fill="#121212"/>
<rect x="419.00" y="262.60" width="17.50" height="1.80" rx="1.5" fill="#707070"/>
<rect x="419.00" y="266.80" width="17.50" height="1.80" rx="1.5" fill="#707070"/>
<rect x="419.00" y="273.70" width="17.50" height="1.80" rx="1.5" fill="#7a7a7a"/>
<rect x="419.00" y="282.20" width="17.50" height="4.20" rx="1.5" fill="#222"/>
<rect x="419.00" y="287.80" width="17.50" height="2.80" rx="1.5" fill="#3a3a3a"/>
<rect x="439.80" y="236.80" width="17.70" height="2.80" rx="1.5" fill="#383838"/>
<rect x="439.80" y="245.10" width="17.70" height="2.20" rx="1.5" fill="#707070"/>
<rect x="439.80" y="250.30" width="17.70" height="3.00" rx="1.5" fill="#404040"/>
<rect x="439.80" y="255.20" width="17.70" height="5.20" rx="1.5" fill="#1c1c1c"/>
<rect x="439.80" y="262.70" width="17.70" height="1.60" rx="1.5" fill="#8a8a8a"/>
<rect x="439.80" y="267.20" width="17.70" height="1.60" rx="1.5" fill="#8a8a8a"/>
<rect x="439.80" y="274.20" width="17.70" height="1.60" rx="1.5" fill="#909090"/>
<rect x="439.80" y="286.20" width="17.70" height="2.40" rx="1.5" fill="#7a7a7a"/>
<rect x="461.30" y="237.10" width="17.20" height="2.20" rx="1.5" fill="#888"/>
<rect x="461.30" y="245.20" width="17.20" height="2.00" rx="1.5" fill="#8e8e8e"/>
<rect x="461.30" y="250.00" width="17.20" height="3.20" rx="1.5" fill="#383838"/>
<rect x="461.30" y="254.90" width="17.20" height="5.40" rx="1.5" fill="#181818"/>
<rect x="461.30" y="263.20" width="17.20" height="1.60" rx="1.5" fill="#999"/>
<rect x="461.30" y="269.20" width="17.20" height="1.60" rx="1.5" fill="#9c9c9c"/>
<rect x="461.30" y="285.90" width="17.20" height="2.20" rx="1.5" fill="#8a8a8a"/>
<rect x="416.50" y="303.60" width="19.00" height="4.60" rx="2" fill="#2a2a2a"/>
<rect x="416.50" y="308.20" width="19.00" height="6.60" rx="1" fill="#7e7e7e"/>
<rect x="439.00" y="303.80" width="18.00" height="4.00" rx="2" fill="#303030"/>
<rect x="439.00" y="308.00" width="18.00" height="7.00" rx="1" fill="#888"/>
<rect x="461.00" y="303.80" width="18.00" height="4.00" rx="2" fill="#404040"/>
<rect x="461.00" y="308.00" width="18.00" height="7.00" rx="1" fill="#8e8e8e"/>
<rect x="418.00" y="328.50" width="20.00" height="6.00" rx="3" fill="#161616"/>
<rect x="441.00" y="329.70" width="18.00" height="6.00" rx="3" fill="#161616"/>
<rect x="461.50" y="330.60" width="20.00" height="5.80" rx="2.9" fill="#161616"/>
</g>
<line x1="423.30" y1="351.00" x2="475.80" y2="351.00" stroke="#000" stroke-width="2.4" />
<text x="455.40" y="366.47" font-size="10.2" font-weight="bold" text-anchor="middle" fill="#000" >Ba/F3-PDGFRα-T674M</text>
</svg>
</body></html>
